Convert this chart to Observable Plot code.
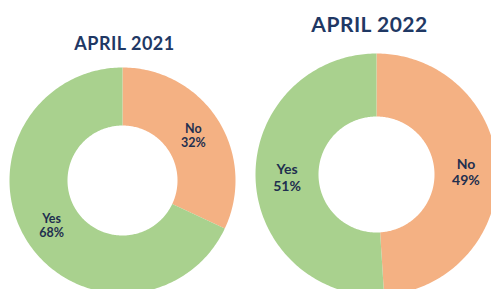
<!DOCTYPE html>
<html>
<head>
<meta charset="utf-8">
<script src="https://cdn.jsdelivr.net/npm/d3@7"></script>
<script src="https://cdn.jsdelivr.net/npm/@observablehq/plot@0.6"></script>
<style>
  html, body { margin: 0; padding: 0; background: #fff; }
  #chart svg { display: block; }
  .title text { letter-spacing: 0.5px; }
</style>
</head>
<body>
<div id="chart"></div>
<script>
// ---- data ----
const titles = ["APRIL 2021", "APRIL 2022"];
const categories = ["No", "Yes"];
const values2021 = [32, 68];
const values2022 = [49, 51];

// ---- layout (pixel units) ----
const W = 491, H = 289;
const layout = [
  {cx: 122, cy: 180, R: 113, r: 55, tx: 124, ty: 44},
  {cx: 376, cy: 174, R: 121, r: 58, tx: 369, ty: 25}
];
const colors = {No: "#F4B183", Yes: "#A9D18E"};

const series = [values2021, values2022];
const arcPts = [];
const labels = [];
const titleRows = [];
series.forEach((vals, i) => {
  const L = layout[i];
  const total = d3.sum(vals);
  let acc = 0;
  titleRows.push({x: L.tx, y: L.ty, text: titles[i]});
  vals.forEach((v, j) => {
    const a0 = acc / total * 2 * Math.PI;
    acc += v;
    const a1 = acc / total * 2 * Math.PI;
    const key = `${i}-${j}`;
    const n = Math.max(2, Math.ceil((a1 - a0) / (Math.PI / 180)));
    const pt = (a, rad) => ({x: L.cx + rad * Math.sin(a), y: L.cy - rad * Math.cos(a), key, cat: categories[j]});
    for (let k = 0; k <= n; k++) arcPts.push(pt(a0 + (a1 - a0) * k / n, L.R));
    for (let k = n; k >= 0; k--) arcPts.push(pt(a0 + (a1 - a0) * k / n, L.r));
    const am = (a0 + a1) / 2, rm = (L.R + L.r) / 2;
    labels.push({x: L.cx + rm * Math.sin(am), y: L.cy - rm * Math.cos(am),
                 text: `${categories[j]}\n${v}%`});
  });
});

const plot = Plot.plot({
  width: W, height: H,
  margin: 0,
  x: {domain: [0, W], range: [0, W], axis: null},
  y: {domain: [0, H], range: [0, H], axis: null},
  style: {background: "#fff"},
  marks: [
    Plot.line(arcPts, {x: "x", y: "y", z: "key", fill: d => colors[d.cat], stroke: "none", curve: "linear"}),
    Plot.text(labels.filter((d, i) => i < 2), {x: "x", y: "y", text: "text", fontSize: 12.5, fontWeight: "bold",
      fill: "#1F2F4F", fontFamily: "Lato", lineHeight: 1.15}),
    Plot.text(labels.filter((d, i) => i >= 2), {x: "x", y: "y", text: "text", fontSize: 14, fontWeight: "bold",
      fill: "#1F2F4F", fontFamily: "Lato", lineHeight: 1.2}),
    Plot.text(titleRows.slice(0, 1), {x: "x", y: "y", text: "text", fontSize: 18, fontWeight: "bold",
      fill: "#1F3864", fontFamily: "Lato", className: "title"}),
    Plot.text(titleRows.slice(1), {x: "x", y: "y", text: "text", fontSize: 21, fontWeight: "bold",
      fill: "#1F3864", fontFamily: "Lato", className: "title"})
  ]
});
document.getElementById("chart").appendChild(plot);
</script>
</body>
</html>
